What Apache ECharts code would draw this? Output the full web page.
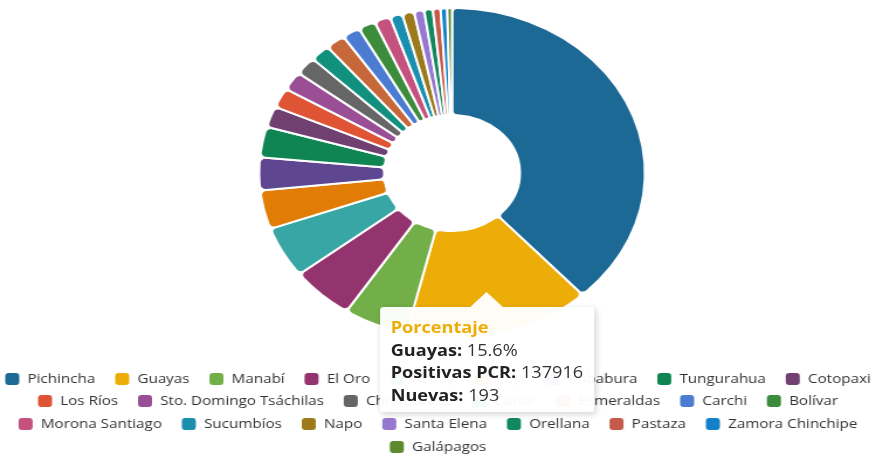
<!DOCTYPE html>
<html>
<head>
<meta charset="utf-8">
<script src="https://cdn.jsdelivr.net/npm/echarts@6/dist/echarts.min.js"></script>
<style>
  html, body { margin: 0; padding: 0; background: #fff; overflow: hidden; }
  #wrap { width: 876px; height: 456px; overflow: hidden; }
  #chart { width: 749px; height: 456px; transform: scaleX(1.1696); transform-origin: 0 0; }
</style>
</head>
<body>
<div id="wrap"><div id="chart"></div></div>
<script>
// ---- data ----
const provincias = ['Pichincha', 'Guayas', 'Manabí', 'El Oro', 'Azuay', 'Loja', 'Imbabura', 'Tungurahua', 'Cotopaxi',
  'Los Ríos', 'Sto. Domingo Tsáchilas', 'Chimborazo', 'Cañar', 'Esmeraldas', 'Carchi', 'Bolívar',
  'Morona Santiago', 'Sucumbíos', 'Napo', 'Santa Elena', 'Orellana', 'Pastaza', 'Zamora Chinchipe', 'Galápagos'];
const positivasPCR = [337688, 137916, 47736, 46852, 44203, 33592, 28288, 26520, 18122,
  17238, 16354, 15912, 14763, 14586, 13260, 12818,
  11934, 9282, 8840, 7514, 6365, 5746, 4862, 3536];
const nuevas = [null, 193, null, null, null, null, null, null, null,
  null, null, null, null, null, null, null,
  null, null, null, null, null, null, null, null];
const colores = ['#1D6996', '#EDAD08', '#73AF48', '#94346E', '#38A6A5', '#E17C05', '#5F4690', '#0F8554', '#6F4070',
  '#DE5434', '#994E95', '#666666', '#12907E', '#C6683A', '#4C7BD2', '#3C8C3C',
  '#C4527E', '#1A8FB0', '#9C7A1C', '#9678D0', '#12885E', '#C55A4C', '#1480CC', '#5E8A2E'];
const tituloTooltip = 'Porcentaje';
const provinciaResaltada = 'Guayas';

// ---- chart ----
const chart = echarts.init(document.getElementById('chart'));
const total = positivasPCR.reduce((a, b) => a + b, 0);

const iconoLeyenda = 'path://M3,0 H9 A3,3 0 0 1 12,3 V9 A3,3 0 0 1 9,12 H3 A3,3 0 0 1 0,9 V3 A3,3 0 0 1 3,0 Z';
const filas = [[0, 9], [9, 16], [16, 23], [23, 24]];
const filasTop = [372, 394, 417, 440];
const legends = filas.map((f, i) => ({
  data: provincias.slice(f[0], f[1]),
  left: 'center',
  top: filasTop[i],
  width: 2000,
  padding: 0,
  orient: 'horizontal',
  icon: iconoLeyenda,
  itemWidth: 12,
  itemHeight: 12,
  itemGap: 17,
  itemStyle: { borderWidth: 0 },
  selectedMode: false,
  textStyle: { color: '#333', fontSize: 13, fontFamily: 'Open Sans', lineHeight: 14, padding: [0, 0, 0, 2] }
}));

const option = {
  animation: false,
  color: colores,
  legend: legends,
  tooltip: {
    trigger: 'item',
    alwaysShowContent: true,
    triggerOn: 'none',
    transitionDuration: 0,
    backgroundColor: 'rgba(255,255,255,0.96)',
    borderWidth: 0,
    padding: [9, 9, 6, 9],
    extraCssText: 'box-shadow: 1px 2px 6px rgba(0,0,0,0.18); border-radius: 3px;',
    textStyle: { color: '#222', fontSize: 15, fontFamily: 'Open Sans' },
    position: function (point, params, dom, rect, size) {
      const lay = chart.getModel().getSeriesByIndex(0).getData().getItemLayout(params.dataIndex);
      const mid = (lay.startAngle + lay.endAngle) / 2;
      const rm = lay.r0 + (lay.r - lay.r0) * 0.6;
      const ax = lay.cx + rm * Math.cos(mid);
      const ay = lay.cy + rm * Math.sin(mid);
      return [ax - size.contentSize[0] / 2, ay + 16];
    },
    formatter: function (p) {
      const i = p.dataIndex;
      const pct = (positivasPCR[i] / total * 100).toFixed(1);
      const nv = nuevas[i] == null ? '-' : nuevas[i];
      return '<div style="position:absolute;left:50%;top:-15px;margin-left:-14px;width:0;height:0;' +
        'border-left:14px solid transparent;border-right:14px solid transparent;border-bottom:15px solid rgba(255,255,255,0.96);"></div>' +
        '<div style="line-height:22.5px;font-family:\'Open Sans\';font-size:15.5px;color:#333">' +
        '<div style="color:' + p.color + ';font-weight:700">' + tituloTooltip + '</div>' +
        '<div><b style="color:#222">' + provincias[i] + ':</b> ' + pct + '%</div>' +
        '<div><b style="color:#222">Positivas PCR:</b> ' + positivasPCR[i] + '</div>' +
        '<div><b style="color:#222">Nuevas:</b> ' + nv + '</div>' +
        '</div>';
    }
  },
  series: [{
    type: 'pie',
    center: [386.5, 173],
    radius: [58, 165],
    startAngle: 90,
    clockwise: true,
    label: { show: false },
    labelLine: { show: false },
    emphasis: { disabled: true },
    itemStyle: { borderColor: '#fff', borderWidth: 2, borderRadius: 5 },
    data: provincias.map((n, i) => ({ name: n, value: positivasPCR[i] }))
  }]
};
chart.setOption(option);
chart.dispatchAction({ type: 'showTip', seriesIndex: 0, dataIndex: provincias.indexOf(provinciaResaltada) });
</script>
</body>
</html>
